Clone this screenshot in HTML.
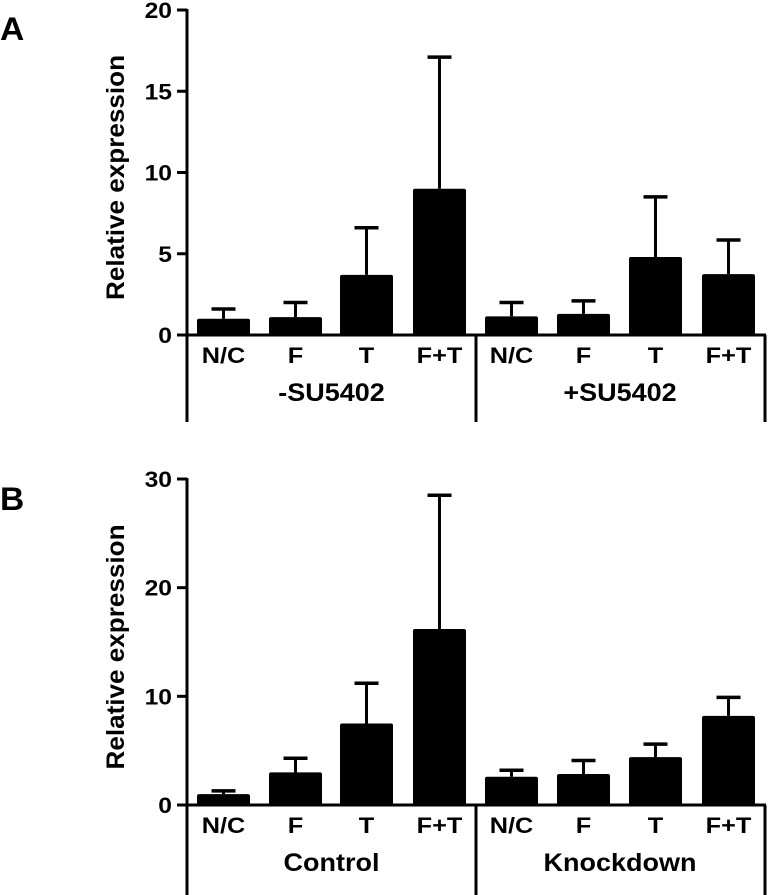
<!DOCTYPE html>
<html><head><meta charset="utf-8"><style>
html,body{margin:0;padding:0;background:#fff;}
svg{display:block;font-family:"Liberation Sans",Arial,sans-serif;font-weight:bold;}
</style></head>
<body>
<svg id="chart" width="768" height="895" viewBox="0 0 768 895"></svg>
<script>
const categories = ["N/C","F","T","F+T","N/C","F","T","F+T"];
const groupsA = ["-SU5402","+SU5402"];
const valuesA = [1.0,1.1,3.7,9.0,1.15,1.3,4.8,3.75];
const errorsA = [1.6,2.0,6.6,17.1,2.0,2.1,8.5,5.85];
const ticksA = [0,5,10,15,20];
const groupsB = ["Control","Knockdown"];
const valuesB = [1.0,3.0,7.5,16.2,2.6,2.85,4.4,8.2];
const errorsB = [1.3,4.3,11.2,28.5,3.2,4.1,5.6,9.9];
const ticksB = [0,10,20,30];

const svg = document.getElementById('chart');
const NS = 'http://www.w3.org/2000/svg';
function mk(tag, attrs, parent){
  const e = document.createElementNS(NS, tag);
  for (const k in attrs) e.setAttribute(k, attrs[k]);
  (parent||svg).appendChild(e);
  return e;
}
function txt(parent, x, y, size, anchor, sx, content){
  const t = mk('text', {x:0, y:0, 'font-size':size, 'text-anchor':anchor, transform:`translate(${x},${y}) scale(${sx},1)`}, parent);
  t.textContent = content;
  return t;
}
const barX = [197,269,340,413,485,557,629,702];
const barW = 53;

function panel(id, letter, letterY, y0, yTop, maxV, ticks, vals, errs, groups, bottom){
  const g = mk('g', {});
  
  
  const y = v => y0 - v / maxV * (y0 - yTop);
  const L = txt(g, 0, letterY, 32, 'start', 1.05, letter);
  
  
  const ax = mk('line', {x1:187, x2:187, y1:yTop-1, y2:bottom, stroke:'#000', 'stroke-width':3}, g);
  
  
  ticks.forEach(t => {
    const ty = y(t);
    const tl = mk('line', {x1:177, x2:187, y1:ty, y2:ty, stroke:'#000', 'stroke-width':3}, g);
    
    
    const tt = txt(g, 172, ty+8, 22, 'end', 1.12, t);
    
    
  });
  const yt = mk('text', {x:0, y:0, 'font-size':25, 'text-anchor':'middle', textLength:245, lengthAdjust:'spacingAndGlyphs', transform:`translate(124,${(y0+yTop)/2 + 5}) rotate(-90)`}, g);
  yt.textContent = 'Relative expression';
  
  
  const bl = mk('line', {x1:187, x2:766, y1:y0, y2:y0, stroke:'#000', 'stroke-width':3}, g);
  
  
  [476, 765].forEach(sx => {
    const s = mk('line', {x1:sx, x2:sx, y1:y0, y2:bottom, stroke:'#000', 'stroke-width':3}, g);
    
    
  });
  vals.forEach((v, i) => {
    const cx = barX[i] + barW/2;
    const ey = y(errs[i]);
    const el = mk('line', {x1:cx, x2:cx, y1:ey, y2:y(v), stroke:'#000', 'stroke-width':3}, g);
    
    
    const ec = mk('line', {x1:cx-12, x2:cx+12, y1:ey, y2:ey, stroke:'#000', 'stroke-width':3.5}, g);
    
    
    const r = mk('rect', {x:barX[i], y:y(v), width:barW, height:y0 - y(v), fill:'#000', rx:2}, g);
    
    
    const c = txt(g, cx, y0+28, 22, 'middle', 1.15, categories[i]);
    
    
  });
  groups.forEach((gn, k) => {
    const cx = (barX[k*4] + barX[k*4+3] + barW) / 2;
    const t = txt(g, cx, y0+66, 25, 'middle', 1.08, gn);
    
    
  });
}
panel('a', 'A', 40, 335, 10, 20, ticksA, valuesA, errorsA, groupsA, 422);
panel('b', 'B', 510, 805, 479, 30, ticksB, valuesB, errorsB, groupsB, 895);
</script>
</body></html>
